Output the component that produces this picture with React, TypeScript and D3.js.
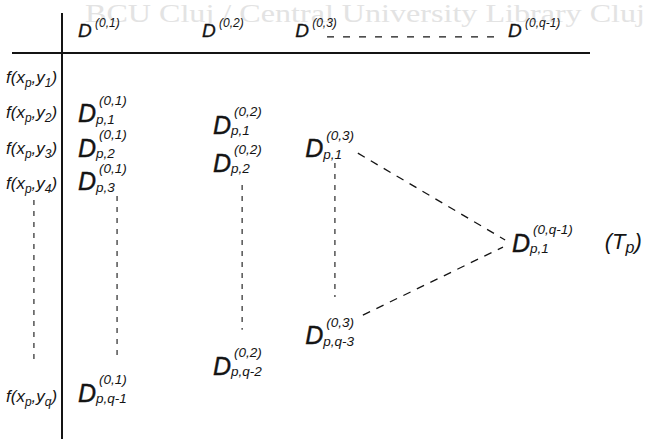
import React from "react";
import * as d3 from "d3";

// ---- data (diagram units: column units along x, row levels along y) ----
const rowLevels = [1, 2, 3, 4, 10];
const rowSubs = ["1", "2", "3", "4", "q"];

const headerPos = [0, 3.46, 6.06, 12];
const headerSups = ["(0,1)", "(0,2)", "(0,3)", "(0,q-1)"];

const cellCols = [0, 0, 0, 0, 3.77, 3.77, 3.77, 6.34, 6.34, 12.11];
const cellLevels = [1.98, 2.95, 3.9, 9.86, 2.3, 3.37, 9.1, 2.97, 8.25, 5.63];
const cellSups = ["(0,1)", "(0,1)", "(0,1)", "(0,1)", "(0,2)", "(0,2)", "(0,2)", "(0,3)", "(0,3)", "(0,q-1)"];
const cellSubs = ["p,1", "p,2", "p,3", "p,q-1", "p,1", "p,2", "p,q-2", "p,1", "p,q-3", "p,1"];

// dashed continuation lines: [x1, level1, x2, level2]
const vDots = [
  [-1.23, 4.44, -1.23, 8.96],
  [1.09, 4.33, 1.09, 8.96],
  [4.58, 4.02, 4.58, 8.1],
  [7.17, 3.4, 7.17, 7.18],
];
const diagDashes = [
  [7.81, 3.12, 11.92, 5.57],
  [7.95, 7.69, 11.86, 5.77],
];
const headerDash = [6.95, -0.16, 11.83, -0.16];

const tLabelPos = [14.7, 5.63];
const watermark = "BCU Cluj / Central University Library Cluj";

const W = 648;
const H = 439;

export default function App() {
  const x = d3.scaleLinear().domain([0, 12]).range([78, 508]);
  const y = d3.scaleLinear().domain([1, 10]).range([78, 397]);
  const font = "'Liberation Sans', Arial, sans-serif";
  const ink = "#141414";

  return (
    <svg
      width={W}
      height={H}
      style={{ position: "absolute", left: 0, top: 0, background: "#fff" }}
      fontFamily={font}
      fontStyle="italic"
      fill={ink}
    >
      <rect width={W} height={H} fill="#fff" />
      {/* watermark */}
      <text
        x={85}
        y={22}
        fontFamily="'Liberation Serif', 'Times New Roman', serif"
        fontStyle="normal"
        fontSize={25}
        fill="#e3e3e3"
        textLength={560}
        lengthAdjust="spacingAndGlyphs"
      >
        {watermark}
      </text>

      {/* table rules */}
      <line x1={12} x2={590} y1={53} y2={53} stroke={ink} strokeWidth={2} />
      <line x1={62} x2={62} y1={13} y2={H} stroke={ink} strokeWidth={2} />

      {/* column headers */}
      {headerPos.map((p, i) => (
        <g key={"h" + i}>
          <text x={x(p)} y={37} fontSize={19} stroke={ink} strokeWidth={0.3}>D</text>
          <text x={x(p) + 17} y={27} fontSize={12}>{headerSups[i]}</text>
        </g>
      ))}
      <line
        x1={x(headerDash[0])}
        x2={x(headerDash[2])}
        y1={y(headerDash[1])}
        y2={y(headerDash[3])}
        stroke={ink}
        strokeWidth={1.2}
        strokeDasharray="7 9"
      />

      {/* row labels */}
      {rowLevels.map((lv, i) => (
        <text key={"r" + i} x={6} y={y(lv) + 5} fontSize={17}>
          f(x
          <tspan fontSize={12} dy={4}>p</tspan>
          <tspan dy={-4}>,y</tspan>
          <tspan fontSize={12} dy={4}>{rowSubs[i]}</tspan>
          <tspan dy={-4}>)</tspan>
        </text>
      ))}

      {/* cells */}
      {cellCols.map((c, i) => {
        const cx = x(c);
        const cy = y(cellLevels[i]);
        return (
          <g key={"c" + i}>
            <text x={cx} y={cy + 9.5} fontSize={25} stroke={ink} strokeWidth={0.4}>D</text>
            <text x={cx + 21} y={cy - 8} fontSize={13.5}>{cellSups[i]}</text>
            <text x={cx + 18} y={cy + 11} fontSize={13.5}>{cellSubs[i]}</text>
          </g>
        );
      })}

      {/* (T_p) */}
      <text x={x(tLabelPos[0])} y={y(tLabelPos[1]) + 7} fontSize={22}>
        (T
        <tspan fontSize={16} dy={4}>p</tspan>
        <tspan dy={-4}>)</tspan>
      </text>

      {/* vertical ellipsis lines */}
      {vDots.map((d, i) => (
        <line
          key={"v" + i}
          x1={x(d[0])}
          y1={y(d[1])}
          x2={x(d[2])}
          y2={y(d[3])}
          stroke={ink}
          strokeWidth={1.1}
          strokeDasharray="5 6"
        />
      ))}
      {/* diagonal dashes */}
      {diagDashes.map((d, i) => (
        <line
          key={"d" + i}
          x1={x(d[0])}
          y1={y(d[1])}
          x2={x(d[2])}
          y2={y(d[3])}
          stroke={ink}
          strokeWidth={1.3}
          strokeDasharray="8 7"
        />
      ))}
    </svg>
  );
}
